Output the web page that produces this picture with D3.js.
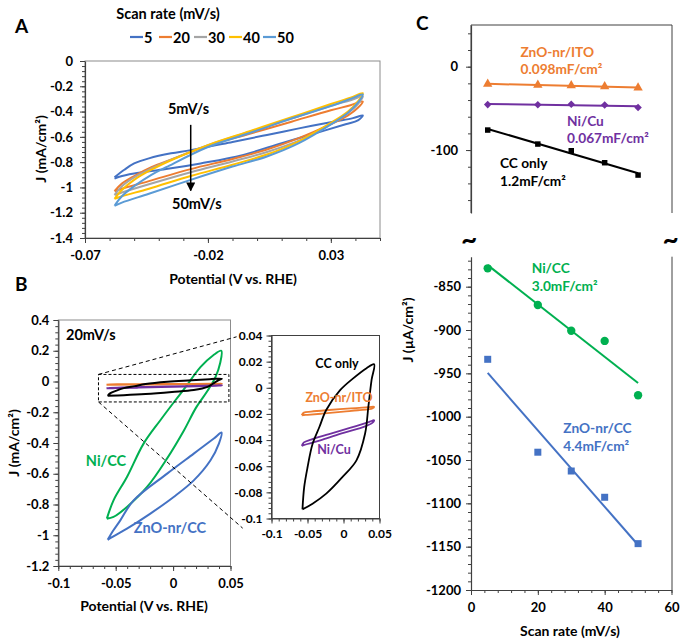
<!DOCTYPE html>
<html><head><meta charset="utf-8">
<script src="https://cdn.jsdelivr.net/npm/d3@7"></script>
<style>
body{margin:0;background:#fff}
text{font-family:Lato,'Open Sans',sans-serif;font-weight:bold}
</style>
</head><body>
<svg id="fig" width="681" height="639"></svg>
<script>
// ---------- DATA ----------
// Panel A: CV loops at different scan rates (potential V, current mA/cm2)
const scanRateLabels = ["5","20","30","40","50"];
const scanColors = ["#4472C4","#ED7D31","#A5A5A5","#FFC000","#5B9BD5"];
const cvA5 = [[-0.058,-0.92],[-0.054,-0.86],[-0.05,-0.81],[-0.044,-0.77],[-0.035,-0.73],[-0.027,-0.705],[-0.01,-0.64],[0.004,-0.585],[0.017,-0.533],[0.031,-0.48],[0.039,-0.452],[0.043,-0.43],
              [0.041,-0.47],[0.036,-0.5],[0.024,-0.57],[0.01,-0.65],[-0.006,-0.745],[-0.023,-0.81],[-0.037,-0.855],[-0.05,-0.89],[-0.056,-0.915],[-0.058,-0.93]];
const cvA20 = [[-0.058,-1.03],[-0.055,-0.97],[-0.05,-0.91],[-0.043,-0.84],[-0.035,-0.78],[-0.02,-0.67],[-0.003,-0.575],[0.014,-0.48],[0.03,-0.39],[0.038,-0.35],[0.043,-0.32],
               [0.041,-0.37],[0.037,-0.43],[0.03,-0.5],[0.017,-0.61],[0.004,-0.7],[-0.01,-0.775],[-0.027,-0.855],[-0.044,-0.95],[-0.055,-1.01],[-0.058,-1.03]];
const cvA30 = [[-0.058,-1.06],[-0.055,-0.99],[-0.05,-0.92],[-0.043,-0.85],[-0.035,-0.78],[-0.02,-0.665],[-0.003,-0.56],[0.014,-0.455],[0.03,-0.355],[0.038,-0.31],[0.043,-0.28],
               [0.041,-0.34],[0.037,-0.41],[0.03,-0.5],[0.017,-0.63],[0.004,-0.72],[-0.01,-0.795],[-0.027,-0.88],[-0.044,-0.975],[-0.055,-1.04],[-0.058,-1.06]];
const cvA40 = [[-0.058,-1.09],[-0.055,-1.02],[-0.05,-0.94],[-0.043,-0.86],[-0.035,-0.785],[-0.02,-0.665],[-0.003,-0.555],[0.014,-0.445],[0.03,-0.34],[0.038,-0.29],[0.043,-0.255],
               [0.041,-0.32],[0.037,-0.4],[0.03,-0.49],[0.017,-0.635],[0.004,-0.74],[-0.01,-0.82],[-0.027,-0.91],[-0.044,-1.01],[-0.055,-1.07],[-0.058,-1.09]];
const cvA50 = [[-0.058,-1.145],[-0.055,-1.07],[-0.05,-0.99],[-0.043,-0.9],[-0.037,-0.84],[-0.02,-0.68],[-0.003,-0.57],[0.014,-0.455],[0.031,-0.35],[0.038,-0.3],[0.043,-0.265],
               [0.041,-0.33],[0.037,-0.41],[0.031,-0.49],[0.017,-0.65],[0.004,-0.755],[-0.01,-0.835],[-0.027,-0.94],[-0.044,-1.05],[-0.055,-1.12],[-0.058,-1.145]];
const cvA = [cvA5, cvA20, cvA30, cvA40, cvA50];
const aXTicks = [-0.07,-0.02,0.03];
const aYTicks = [0,-0.2,-0.4,-0.6,-0.8,-1,-1.2,-1.4];

// Panel B: CVs at 20 mV/s
const cvNiCC = [[-0.0577,-0.892],[-0.0519,-0.773],[-0.0402,-0.621],[-0.0257,-0.404],[-0.0111,-0.252],[0.002,-0.122],[0.01,-0.045],[0.024,0.095],[0.035,0.171],[0.042,0.2],
                [0.041,0.12],[0.037,0.03],[0.03,-0.06],[0.02,-0.17],[0.0093,-0.32],[-0.0052,-0.5],[-0.0227,-0.686],[-0.0402,-0.816],[-0.0519,-0.881],[-0.0577,-0.892]];
const cvZnOCC = [[-0.057,-1.03],[-0.052,-0.968],[-0.046,-0.903],[-0.0344,-0.773],[-0.0052,-0.599],[0.018,-0.469],[0.0355,-0.371],[0.0422,-0.332],
                 [0.0399,-0.404],[0.0326,-0.512],[0.018,-0.643],[0.0005,-0.751],[-0.0198,-0.859],[-0.0402,-0.957],[-0.054,-1.015],[-0.057,-1.03]];
const cvCC = [[-0.057,-0.093],[-0.0546,-0.076],[-0.05,-0.061],[-0.043,-0.043],[-0.0335,-0.03],[-0.024,-0.017],[-0.005,-0.002],[0.013,0.007],[0.032,0.015],[0.0425,0.018],
              [0.039,0.006],[0.0345,-0.0146],[0.03,-0.035],[0.018,-0.0555],[-0.001,-0.068],[-0.024,-0.081],[-0.043,-0.0887],[-0.057,-0.093]];
const cvZnOITO = [[-0.058,-0.021],[-0.055,-0.019],[-0.045,-0.0182],[-0.02,-0.017],[0.01,-0.0158],[0.035,-0.0148],[0.0425,-0.0145],
                  [0.04,-0.0158],[0.02,-0.0172],[0,-0.0182],[-0.03,-0.0198],[-0.05,-0.0207],[-0.058,-0.021]];
const cvNiCu = [[-0.058,-0.0445],[-0.055,-0.0418],[-0.045,-0.0396],[-0.02,-0.0355],[0.01,-0.0305],[0.035,-0.0262],[0.0425,-0.0248],
                [0.04,-0.0268],[0.03,-0.0295],[0,-0.0345],[-0.03,-0.0398],[-0.05,-0.043],[-0.058,-0.0445]];
const bXTicks = [-0.1,-0.05,0,0.05];
const bYTicks = [0.4,0.2,0,-0.2,-0.4,-0.6,-0.8,-1,-1.2];
const insetYTicks = [0.04,0.02,0,-0.02,-0.04,-0.06,-0.08,-0.1];
const zoomBox = [[-0.065,0.046],[0.0486,-0.133]];      // dashed box in B (data units)
const zoomLinkEnds = [[-0.1485,0.039],[-0.14,-0.1074]]; // link ends (inset data units)

// Panel C: J vs scan rate
const scanRates = [5,20,30,40,50];
const jZnOITO = [-20.8,-22.0,-22.6,-23.8,-25.2];
const jNiCu   = [-45.5,-45.6,-45.0,-46.0,-49.0];
const jCC     = [-76.0,-92.8,-100.8,-115.2,-130.0];
const jNiCC   = [-828.8,-871.1,-900.8,-912.6,-975.3];
const jZnOCC  = [-933.8,-1041.0,-1062.7,-1093.0,-1146.5];
const cXTicks = [0,20,40,60];
const cTopYTicks = [0,-100];
const cBotYTicks = [-850,-900,-950,-1000,-1050,-1100,-1150,-1200];

// ---------- DRAWING ----------
const svg = d3.select("#fig");
const fmt = d => String(+(+d).toFixed(4));
const AX = "#404040", FR = "#8c8c8c";
const TICK_FS = 13, TITLE_FS = 14, LAB_FS = 13.7;

function txt(x,y,s,o={}) {
  return svg.append("text").attr("x",x).attr("y",y).text(s)
    .attr("font-size",o.fs||TITLE_FS).attr("fill",o.fill||"#000")
    .attr("text-anchor",o.anchor||"start").attr("dominant-baseline","central")
    .attr("transform",o.rot?`rotate(${o.rot},${x},${y})`:null);
}
function range(a,b,s){const r=[];const n=Math.round((b-a)/s);for(let i=0;i<=n;i++)r.push(+(a+i*s).toFixed(6));return r;}
function axis(side, scale, pos, major, minor, o={}) {
  const mk = side==="left"?d3.axisLeft:d3.axisBottom;
  const tr = side==="left"?`translate(${pos},0)`:`translate(0,${pos})`;
  if (minor) {
    const gm = svg.append("g").attr("transform",tr).call(mk(scale).tickValues(minor).tickSize(3).tickSizeOuter(0).tickFormat(""));
    gm.select(".domain").remove();
    gm.selectAll(".tick line").attr("stroke",AX);
  }
  const g = svg.append("g").attr("transform",tr)
    .call(mk(scale).tickValues(major).tickSize(5).tickSizeOuter(0).tickPadding(o.pad||4).tickFormat(o.fmt||fmt));
  g.select(".domain").attr("stroke",AX).attr("stroke-width",1.2);
  g.selectAll(".tick line").attr("stroke",AX);
  g.selectAll(".tick text").attr("font-size",o.fs||TICK_FS).attr("fill","#000");
  return g;
}
const lineGen = (x,y) => d3.line().x(d=>x(d[0])).y(d=>y(d[1])).curve(d3.curveCatmullRom.alpha(0.5));

// ===== Panel A =====
const xA = d3.scaleLinear().domain([-0.07,0.05]).range([85,380]);
const yA = d3.scaleLinear().domain([-1.4,0]).range([238,61]);
svg.append("rect").attr("x",85).attr("y",61).attr("width",295).attr("height",177).attr("fill","none").attr("stroke",FR);
axis("left", yA, 85, aYTicks, range(-1.4,0,0.04), {pad:7});
axis("bottom", xA, 238, aXTicks, range(-0.07,0.05,0.01), {pad:8});
cvA.forEach((d,i)=>svg.append("path").attr("d",lineGen(xA,yA)(d)).attr("fill","none").attr("stroke",scanColors[i]).attr("stroke-width",2));
svg.append("defs").append("marker").attr("id","arr").attr("viewBox","0 0 10 10").attr("refX",9).attr("refY",5)
  .attr("markerWidth",6).attr("markerHeight",6).attr("orient","auto").append("path").attr("d","M0,0L10,5L0,10z").attr("fill","#000");
svg.append("line").attr("x1",xA(-0.027)).attr("x2",xA(-0.027)).attr("y1",yA(-0.505)).attr("y2",yA(-1.025))
  .attr("stroke","#000").attr("stroke-width",1.5).attr("marker-end","url(#arr)");
txt(xA(-0.0279),yA(-0.372),"5mV/s",{anchor:"middle",fs:14.5});
txt(xA(-0.0245),yA(-1.127),"50mV/s",{anchor:"middle",fs:14.5});
txt(40,149,"J (mA/cm²)",{anchor:"middle",rot:-90});
txt(233,278,"Potential (V vs. RHE)",{anchor:"middle"});
txt(168,13,"Scan rate (mV/s)",{anchor:"middle",fs:14.5});
const legX = [130,159,194,229,263];
scanRateLabels.forEach((l,i)=>{
  svg.append("line").attr("x1",legX[i]).attr("x2",legX[i]+13).attr("y1",37).attr("y2",37).attr("stroke",scanColors[i]).attr("stroke-width",2.2);
  txt(legX[i]+14,37,l,{fs:14.5});
});
txt(15,25,"A",{fs:19});

// ===== Panel B =====
const xB = d3.scaleLinear().domain([-0.1,0.05]).range([58.3,230.5]);
const yB = d3.scaleLinear().domain([-1.2,0.4]).range([566,320]);
svg.append("rect").attr("x",58.3).attr("y",320).attr("width",172.2).attr("height",246).attr("fill","none").attr("stroke",FR);
axis("left", yB, 58.3, bYTicks, range(-1.2,0.4,0.04), {pad:4});
axis("bottom", xB, 566, bXTicks, range(-0.1,0.05,0.01), {pad:8});
[[cvNiCC,"#00B050"],[cvZnOCC,"#4472C4"],[cvZnOITO,"#ED7D31"],[cvNiCu,"#7030A0"],[cvCC,"#000"]].forEach(([d,c])=>
  svg.append("path").attr("d",lineGen(xB,yB)(d)).attr("fill","none").attr("stroke",c).attr("stroke-width",2));
svg.append("rect").attr("x",xB(zoomBox[0][0])).attr("y",yB(zoomBox[0][1]))
  .attr("width",xB(zoomBox[1][0])-xB(zoomBox[0][0])).attr("height",yB(zoomBox[1][1])-yB(zoomBox[0][1]))
  .attr("fill","none").attr("stroke","#000").attr("stroke-dasharray","3,2");
txt(66,334,"20mV/s",{fs:14.5});
txt(106,460,"Ni/CC",{anchor:"middle",fill:"#00B050",fs:14.5});
txt(170,527,"ZnO-nr/CC",{anchor:"middle",fill:"#4472C4",fs:14.5});
txt(13,443,"J (mA/cm²)",{anchor:"middle",rot:-90});
txt(144,605,"Potential (V vs. RHE)",{anchor:"middle"});
txt(15,283,"B",{fs:19});

// ===== Inset =====
const xI = d3.scaleLinear().domain([-0.1,0.05]).range([271.5,379.5]);
const yI = d3.scaleLinear().domain([-0.1,0.04]).range([518.5,335.5]);
svg.append("rect").attr("x",271.5).attr("y",335.5).attr("width",108).attr("height",183).attr("fill","none").attr("stroke",AX);
axis("left", yI, 271.5, insetYTicks, range(-0.1,0.04,0.004), {pad:4, fs:12});
axis("bottom", xI, 518.5, bXTicks, range(-0.1,0.05,0.01), {pad:6, fs:12});
[[cvZnOITO,"#ED7D31"],[cvNiCu,"#7030A0"],[cvCC,"#000"]].forEach(([d,c])=>
  svg.append("path").attr("d",lineGen(xI,yI)(d)).attr("fill","none").attr("stroke",c).attr("stroke-width",1.8));
txt(337,363,"CC only",{anchor:"middle",fs:12.5});
txt(339,397,"ZnO-nr/ITO",{anchor:"middle",fill:"#ED7D31",fs:12.5});
txt(334,449,"Ni/Cu",{anchor:"middle",fill:"#7030A0",fs:12.5});
[[zoomBox[0][0],zoomBox[0][1],zoomLinkEnds[0]],[zoomBox[0][0],zoomBox[1][1],zoomLinkEnds[1]]].forEach(([bx,by,e])=>
  svg.append("line").attr("x1",xB(bx)).attr("y1",yB(by)).attr("x2",xI(e[0])).attr("y2",yI(e[1]))
    .attr("stroke","#000").attr("stroke-dasharray","4,3"));

// ===== Panel C =====
const xC = d3.scaleLinear().domain([0,60]).range([471,671.5]);
const yCt = d3.scaleLinear().domain([-175.5,50]).range([213,25]);
const yCb = d3.scaleLinear().domain([-1200,-815.4]).range([590,256.7]);
svg.append("path").attr("d",`M471,213V25H672V213`).attr("fill","none").attr("stroke",AX);
svg.append("path").attr("d",`M672,256.7V590`).attr("fill","none").attr("stroke",AX);
axis("left", yCt, 471, cTopYTicks, range(-160,40,20), {pad:8});
axis("left", yCb, 471, cBotYTicks, range(-1200,-820,10), {pad:5});
axis("bottom", xC, 590, cXTicks, range(0,60,4), {pad:8});
function fit(xs,ys){const mx=d3.mean(xs),my=d3.mean(ys);let sxy=0,sxx=0;xs.forEach((x,i)=>{sxy+=(x-mx)*(ys[i]-my);sxx+=(x-mx)**2;});const b=sxy/sxx;return x=>my+b*(x-mx);}
function series(ys, yS, color, sym, size){
  const f = fit(scanRates, ys);
  const x0=d3.min(scanRates), x1=d3.max(scanRates);
  svg.append("line").attr("x1",xC(x0)).attr("y1",yS(f(x0))).attr("x2",xC(x1)).attr("y2",yS(f(x1))).attr("stroke",color).attr("stroke-width",2);
  svg.append("g").selectAll("path").data(scanRates).join("path")
    .attr("transform",(d,i)=>`translate(${xC(d)},${yS(ys[i])})`)
    .attr("d",d3.symbol().type(sym).size(size)).attr("fill",color);
}
series(jZnOITO, yCt, "#ED7D31", d3.symbolTriangle, 38);
series(jNiCu, yCt, "#7030A0", d3.symbolDiamond2, 36);
series(jCC, yCt, "#000", d3.symbolSquare, 30);
series(jNiCC, yCb, "#00B050", d3.symbolCircle, 55);
series(jZnOCC, yCb, "#4472C4", d3.symbolSquare, 49);
txt(520.5,51,"ZnO-nr/ITO",{fill:"#ED7D31",fs:LAB_FS});
txt(520.5,68.5,"0.098mF/cm²",{fill:"#ED7D31",fs:LAB_FS});
txt(567,120,"Ni/Cu",{fill:"#7030A0",fs:LAB_FS});
txt(567,137,"0.067mF/cm²",{fill:"#7030A0",fs:LAB_FS});
txt(500,162.5,"CC only",{fs:LAB_FS});
txt(500,180,"1.2mF/cm²",{fs:LAB_FS});
txt(531.7,267,"Ni/CC",{fill:"#00B050",fs:LAB_FS});
txt(531.7,285,"3.0mF/cm²",{fill:"#00B050",fs:LAB_FS});
txt(563.3,427,"ZnO-nr/CC",{fill:"#4472C4",fs:LAB_FS});
txt(563.3,445,"4.4mF/cm²",{fill:"#4472C4",fs:LAB_FS});
txt(407,330,"J (µA/cm²)",{anchor:"middle",rot:-90});
txt(570,630,"Scan rate (mV/s)",{anchor:"middle"});
txt(469,238,"~",{anchor:"middle",fs:28});
txt(670.5,238,"~",{anchor:"middle",fs:28});
txt(416,22,"C",{fs:19});
</script>
</body></html>
